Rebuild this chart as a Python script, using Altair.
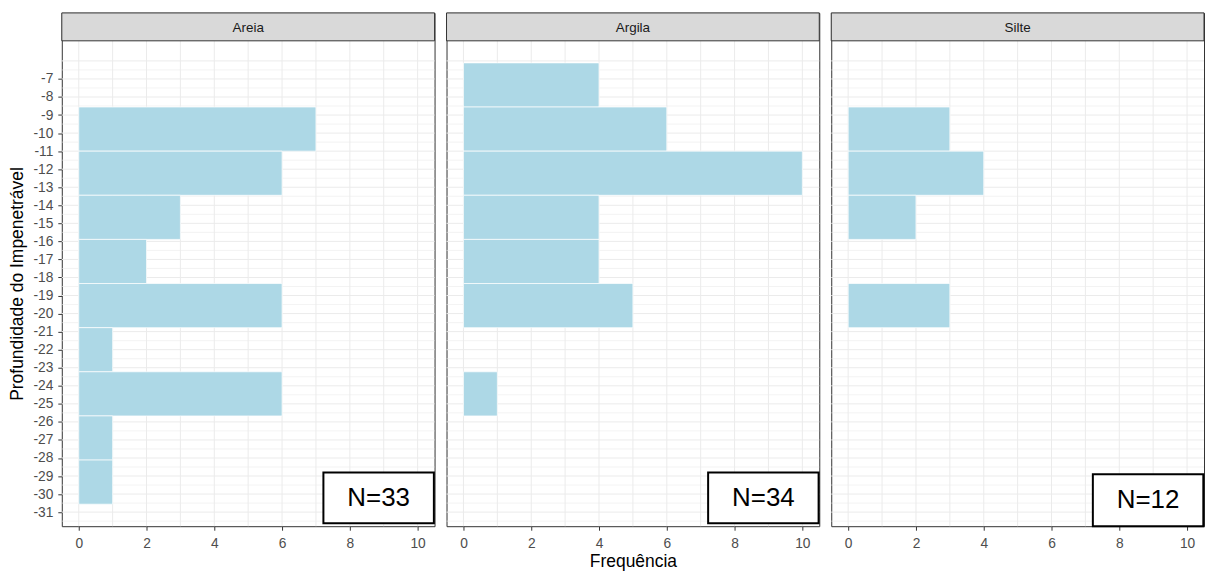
import altair as alt
import pandas as pd

# ---- data ----
panels = ["Areia", "Argila", "Silte"]
bin_top = [-6.11, -8.555, -11.0, -13.445, -15.89, -18.335, -20.78, -23.225, -25.67, -28.115]
bin_bottom = [-8.555, -11.0, -13.445, -15.89, -18.335, -20.78, -23.225, -25.67, -28.115, -30.56]
counts = {
    "Areia": [0, 7, 6, 3, 2, 6, 1, 6, 1, 1],
    "Argila": [4, 6, 10, 4, 4, 5, 0, 1, 0, 0],
    "Silte": [0, 3, 4, 2, 0, 3, 0, 0, 0, 0],
}
n_labels = {"Areia": "N=33", "Argila": "N=34", "Silte": "N=12"}
box_left = [7.22, 7.22, 7.22]
box_right = [10.48, 10.48, 10.48]
box_top = [-28.8, -28.8, -28.9]
box_bottom = [-31.62, -31.62, -31.78]

x_ticks = [0, 2, 4, 6, 8, 10]
x_grid = [0, 1, 2, 3, 4, 5, 6, 7, 8, 9, 10]
y_ticks = [-31, -30, -29, -28, -27, -26, -25, -24, -23, -22, -21, -20, -19,
           -18, -17, -16, -15, -14, -13, -12, -11, -10, -9, -8, -7]
y_grid_major = y_ticks + [-6]
y_grid_minor = [v + 0.5 for v in [-32] + y_ticks]

X_DOMAIN = [-0.5, 10.5]
Y_DOMAIN = [-31.78, -4.887]
W = 374
STRIP = 28
H = 515

FONT = "Liberation Sans"
BAR = "#ADD8E6"
GRID = "#ebebeb"
DARK = "#333333"
LABEL = "#4d4d4d"
LFS = 13.8

xscale = alt.Scale(domain=X_DOMAIN, nice=False, zero=False)
yscale = alt.Scale(domain=Y_DOMAIN, range=[H, STRIP], nice=False, zero=False)


def panel(i, name):
    bars = pd.DataFrame({
        "top": bin_top, "bottom": bin_bottom, "count": counts[name]
    })
    bars = bars[bars["count"] > 0]
    gmaj = pd.DataFrame({"y": y_grid_major})
    gmin = pd.DataFrame({"y": y_grid_minor})
    vgrid = pd.DataFrame({"x": x_grid, "y1": Y_DOMAIN[0], "y2": Y_DOMAIN[1]})

    if i == 0:
        yaxis = alt.Axis(values=y_ticks, title="Profundidade do Impenetrável",
                         grid=False, tickSize=4, labelPadding=5, titlePadding=6,
                         labelOverlap=False, labelFontSize=LFS, labelColor=LABEL,
                         titleFontSize=17.5, labelFont=FONT, titleFont=FONT,
                         labelExpr="'' + datum.value")
    else:
        yaxis = None
    xaxis = alt.Axis(values=x_ticks, title="Frequência" if i == 1 else None,
                     grid=False, tickSize=4, labelPadding=6, titlePadding=3,
                     labelOverlap=False, labelFontSize=LFS, labelColor=LABEL,
                     titleFontSize=17.5, labelFont=FONT, titleFont=FONT,
                     labelExpr="'' + datum.value")

    def Y(field):
        return alt.Y(field, scale=yscale, axis=yaxis)

    def X(field):
        return alt.X(field, scale=xscale, axis=xaxis)

    hmin = alt.Chart(gmin).mark_rule(color=GRID, strokeWidth=0.6).encode(y=Y("y:Q"))
    hmaj = alt.Chart(gmaj).mark_rule(color=GRID, strokeWidth=1).encode(y=Y("y:Q"))
    vg = alt.Chart(vgrid).mark_rule(color=GRID, strokeWidth=1).encode(
        x=X("x:Q"), y=Y("y1:Q"), y2="y2:Q")
    rects = alt.Chart(bars).mark_rect(fill=BAR, stroke="white", strokeWidth=0.7).encode(
        x=X("z:Q"), x2="count:Q", y=Y("top:Q"), y2="bottom:Q",
    ).transform_calculate(z="0")

    box_df = pd.DataFrame({
        "x1": [box_left[i]], "x2": [box_right[i]],
        "y1": [box_top[i]], "y2": [box_bottom[i]],
        "xm": [(box_left[i] + box_right[i]) / 2],
        "ym": [(box_top[i] + box_bottom[i]) / 2],
        "label": [n_labels[name]],
    })
    box = alt.Chart(box_df).mark_rect(fill="white", stroke="black", strokeWidth=2).encode(
        x=X("x1:Q"), x2="x2:Q", y=Y("y1:Q"), y2="y2:Q")
    box_text = alt.Chart(box_df).mark_text(font=FONT, fontSize=26, color="black",
                                           baseline="middle", align="center").encode(
        x=X("xm:Q"), y=Y("ym:Q"), text="label:N")

    strip_df = pd.DataFrame({"name": [name]})
    strip = alt.Chart(strip_df).mark_rect(fill="#d9d9d9", stroke=DARK, strokeWidth=1).encode(
        x=alt.value(0), x2=alt.value(W), y=alt.value(0), y2=alt.value(STRIP))
    strip_text = alt.Chart(strip_df).mark_text(font=FONT, fontSize=13.5, color="#1a1a1a",
                                               baseline="middle", align="center").encode(
        x=alt.value(W / 2), y=alt.value(STRIP / 2 + 1), text="name:N")

    return alt.layer(hmin, hmaj, vg, rects, box, box_text, strip, strip_text).properties(
        width=W, height=H)


chart = alt.hconcat(*[panel(i, p) for i, p in enumerate(panels)], spacing=10).properties(
    padding={"left": 8, "top": 11, "right": 0, "bottom": 0}
).configure_view(stroke=DARK, strokeWidth=1).configure_axis(
    labelFont=FONT, titleFont=FONT, labelFontSize=LFS, titleFontSize=17.5,
    labelColor=LABEL, titleColor="black", tickColor=DARK, domain=False,
    titleFontWeight="normal", labelOverlap=False,
)

chart.save("out.html", embed_options={"renderer": "svg", "actions": False})
